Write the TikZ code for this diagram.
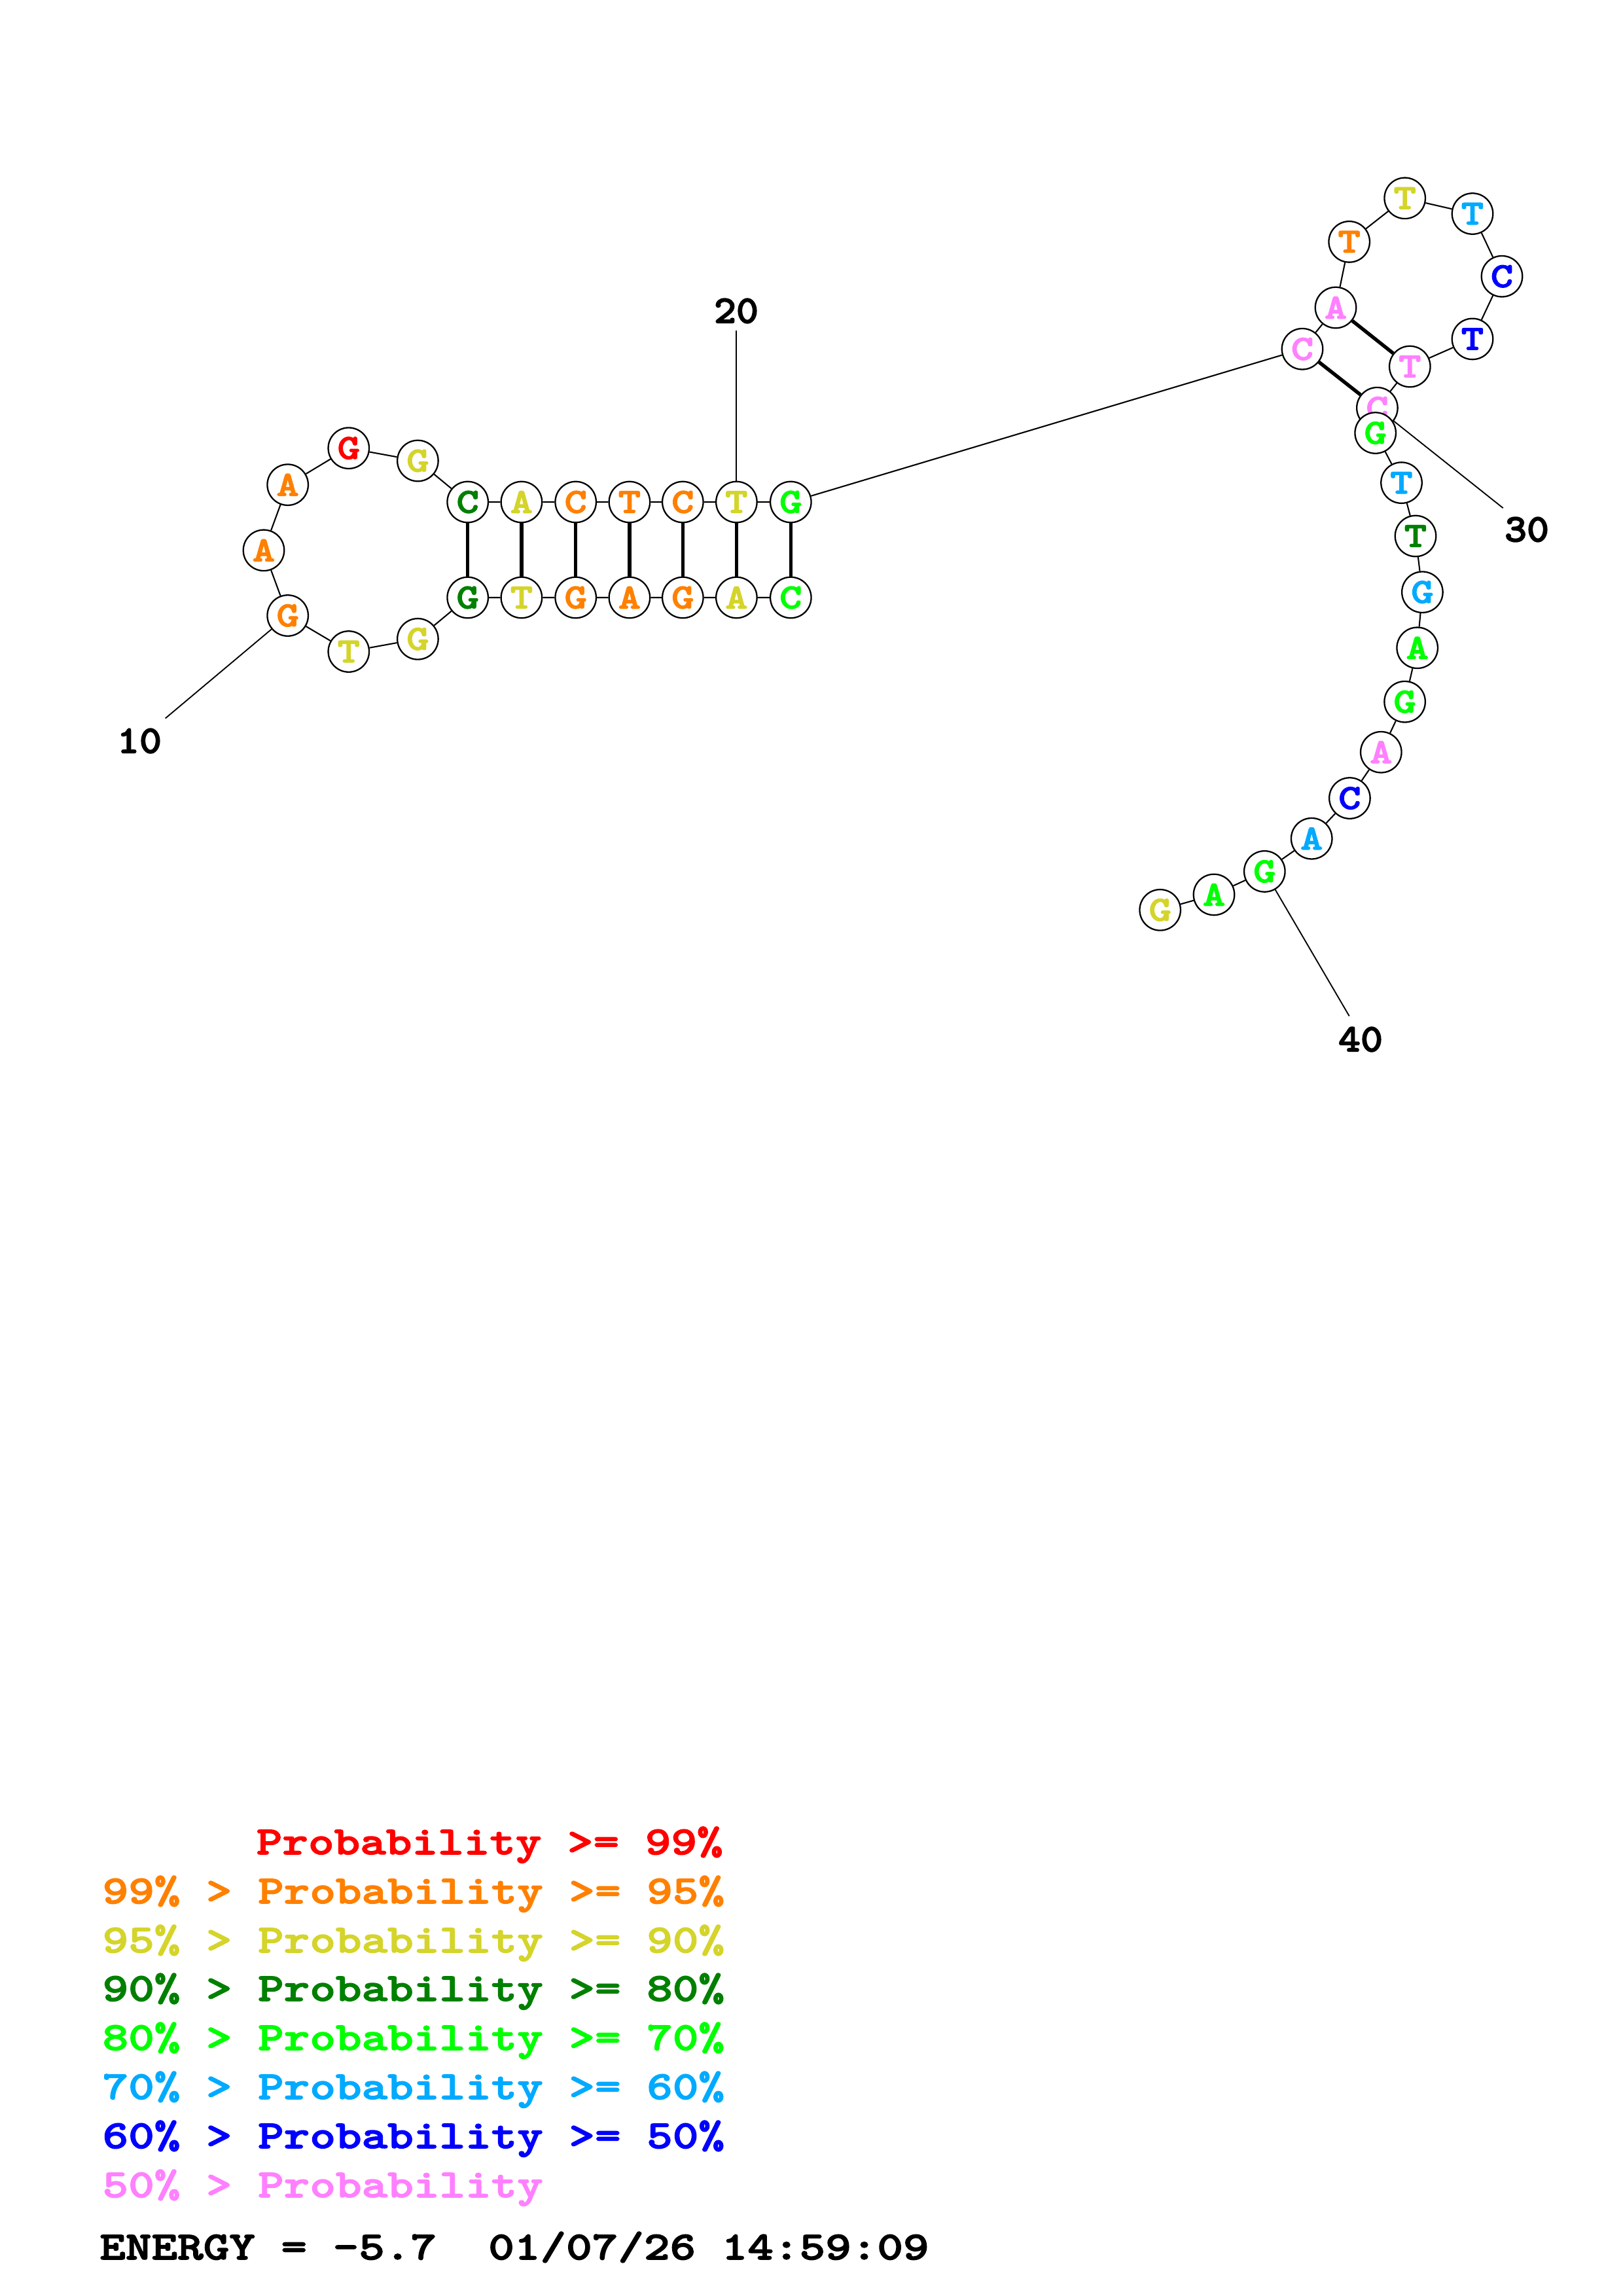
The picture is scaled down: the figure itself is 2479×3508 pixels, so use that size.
\documentclass[tikz,border=0pt]{standalone}
\usepackage{fontspec}
\usetikzlibrary{backgrounds}
\newfontfamily\legfont[FakeStretch=1.24, FakeBold=2.4]{lmmonolt10-bold.otf}
\newfontfamily\ntfamily[FakeStretch=1.22, FakeBold=2.4]{lmmonolt10-bold.otf}
\newfontfamily\labfamily[FakeStretch=1.08, FakeBold=2.4]{lmmonolt10-bold.otf}
\definecolor{pred}{RGB}{255,0,0}
\definecolor{porange}{RGB}{255,128,0}
\definecolor{pyellow}{RGB}{212,212,42}
\definecolor{pdkgreen}{RGB}{0,128,0}
\definecolor{pgreen}{RGB}{0,255,0}
\definecolor{pcyan}{RGB}{0,170,255}
\definecolor{pblue}{RGB}{0,0,255}
\definecolor{ppink}{RGB}{255,128,255}
\frenchspacing
\tikzset{
  nt/.style={circle, draw=black, fill=white, line width=0.55bp, minimum size=15bp, inner sep=0pt,
    font=\ntfamily\fontsize{12.9bp}{15bp}\selectfont},
  bb/.style={line width=0.5bp, black},
  pairline/.style={line width=1.3bp, black},
  numline/.style={line width=0.45bp, black},
  numlab/.style={inner sep=0pt, font=\labfamily\fontsize{14.4bp}{16bp}\selectfont},
  legend/.style={inner sep=0pt, anchor=base west, font=\legfont\fontsize{14.6bp}{18bp}\selectfont}
}
\begin{document}
\begin{tikzpicture}[x=0.24bp, y=-0.24bp]
\useasboundingbox (0,0) rectangle (2479,3508);
% nucleotides
\node[nt, text=pgreen]   (n1)  at (1208.3, 913) {C};
\node[nt, text=pyellow]  (n2)  at (1125.4, 913) {A};
\node[nt, text=porange]  (n3)  at (1043.3, 913) {G};
\node[nt, text=porange]  (n4)  at (961.9, 913) {A};
\node[nt, text=porange]  (n5)  at (879.7, 913) {G};
\node[nt, text=pyellow]  (n6)  at (796.9, 913) {T};
\node[nt, text=pdkgreen] (n7)  at (714.7, 913) {G};
\node[nt, text=pyellow]  (n8)  at (638.4, 976.3) {G};
\node[nt, text=pyellow]  (n9)  at (532.8, 995.5) {T};
\node[nt, text=porange]  (n10) at (439.7, 940.5) {G};
\node[nt, text=porange]  (n11) at (403.0, 840.8) {A};
\node[nt, text=porange]  (n12) at (439.7, 740.7) {A};
\node[nt, text=pred]     (n13) at (532.8, 684.7) {G};
\node[nt, text=pyellow]  (n14) at (638.4, 704.0) {G};
\node[nt, text=pdkgreen] (n15) at (714.7, 767) {C};
\node[nt, text=pyellow]  (n16) at (796.9, 767) {A};
\node[nt, text=porange]  (n17) at (879.7, 767) {C};
\node[nt, text=porange]  (n18) at (961.9, 767) {T};
\node[nt, text=porange]  (n19) at (1043.3, 767) {C};
\node[nt, text=pyellow]  (n20) at (1125.4, 767) {T};
\node[nt, text=pgreen]   (n21) at (1208.3, 767) {G};
\node[nt, text=ppink]    (n22) at (1990.0, 533.2) {C};
\node[nt, text=ppink]    (n23) at (2041.0, 470.0) {A};
\node[nt, text=porange]  (n24) at (2061.7, 369.4) {T};
\node[nt, text=pyellow]  (n25) at (2146.7, 302.8) {T};
\node[nt, text=pcyan]    (n26) at (2250.0, 326.5) {T};
\node[nt, text=pblue]    (n27) at (2295.0, 422.2) {C};
\node[nt, text=pblue]    (n28) at (2250.0, 517.9) {T};
\node[nt, text=ppink]    (n29) at (2154.3, 560.0) {T};
\node[nt, text=ppink]    (n30) at (2104.4, 623.2) {C};
\node[nt, text=pgreen]   (n31) at (2101.7, 661.5) {G};
\node[nt, text=pcyan]    (n32) at (2141.5, 737.6) {T};
\node[nt, text=pdkgreen] (n33) at (2163.0, 819.0) {T};
\node[nt, text=pcyan]    (n34) at (2173.4, 904.7) {G};
\node[nt, text=pgreen]   (n35) at (2165.7, 989.8) {A};
\node[nt, text=pgreen]   (n36) at (2146.6, 1072.2) {G};
\node[nt, text=ppink]    (n37) at (2110.3, 1149.2) {A};
\node[nt, text=pblue]    (n38) at (2062.4, 1219.5) {C};
\node[nt, text=pcyan]    (n39) at (2004.2, 1281.2) {A};
\node[nt, text=pgreen]   (n40) at (1932.3, 1331.4) {G};
\node[nt, text=pgreen]   (n41) at (1855.0, 1366.9) {A};
\node[nt, text=pyellow]  (n42) at (1772.7, 1390.3) {G};
% number labels
\node[numlab] (l10) at (213, 1132) {10};
\node[numlab] (l20) at (1125, 475) {20};
\node[numlab] (l30) at (2333, 809) {30};
\node[numlab] (l40) at (2079, 1588) {40};
\coordinate (c10) at (252.7, 1097.5);
\coordinate (c20) at (1125.4, 505);
\coordinate (c30) at (2296.7, 776.2);
\coordinate (c40) at (2061.7, 1552.4);
\begin{scope}[on background layer]
\draw[bb] (n1) -- (n2) -- (n3) -- (n4) -- (n5) -- (n6) -- (n7) -- (n8) -- (n9) -- (n10)
  -- (n11) -- (n12) -- (n13) -- (n14) -- (n15) -- (n16) -- (n17) -- (n18) -- (n19) -- (n20)
  -- (n21) -- (n22) -- (n23) -- (n24) -- (n25) -- (n26) -- (n27) -- (n28) -- (n29) -- (n30)
  -- (n31) -- (n32) -- (n33) -- (n34) -- (n35) -- (n36) -- (n37) -- (n38) -- (n39) -- (n40)
  -- (n41) -- (n42);
\draw[pairline] (n1) -- (n21);
\draw[pairline] (n2) -- (n20);
\draw[pairline] (n3) -- (n19);
\draw[pairline] (n4) -- (n18);
\draw[pairline] (n5) -- (n17);
\draw[pairline] (n6) -- (n16);
\draw[pairline] (n7) -- (n15);
\draw[pairline] (n22) -- (n30);
\draw[pairline] (n23) -- (n29);
\draw[numline] (n10) -- (c10);
\draw[numline] (n20) -- (c20);
\draw[numline] (n30.center) -- (c30);
\draw[numline] (n40) -- (c40);
\end{scope}
% legend
\node[legend, text=pred]     (g1) at (391, 2833) {Probability >= 99\%};
\node[legend, text=porange]  (g2) at (155.8, 2908) {99\% > Probability >= 95\%};
\node[legend, text=pyellow]  (g3) at (155.8, 2983) {95\% > Probability >= 90\%};
\node[legend, text=pdkgreen] (g4) at (155.8, 3057) {90\% > Probability >= 80\%};
\node[legend, text=pgreen]   (g5) at (155.8, 3132) {80\% > Probability >= 70\%};
\node[legend, text=pcyan]    (g6) at (155.8, 3207) {70\% > Probability >= 60\%};
\node[legend, text=pblue]    (g7) at (155.8, 3282) {60\% > Probability >= 50\%};
\node[legend, text=ppink]    (g8) at (155.8, 3357) {50\% > Probability};
\node[legend, text=black]    (g9) at (151.5, 3452) {ENERGY = -5.7\ \ 01/07/26 14:59:09};
\end{tikzpicture}
\end{document}
